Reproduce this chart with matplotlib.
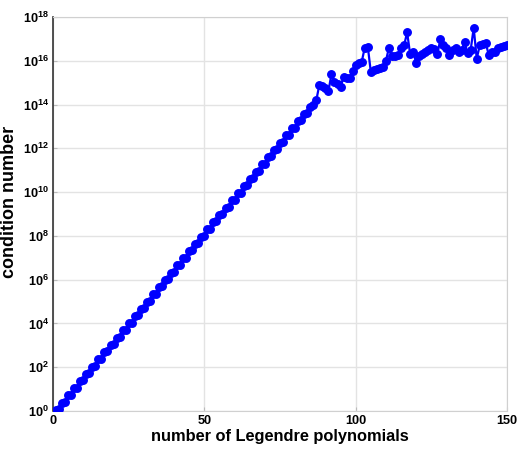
import numpy as np
import matplotlib
matplotlib.use('Agg')
import matplotlib.pyplot as plt
from matplotlib.ticker import FixedLocator, FuncFormatter

plt.rcParams['font.family'] = ['Liberation Sans', 'DejaVu Sans']
plt.rcParams['font.weight'] = 'bold'
plt.rcParams['mathtext.fontset'] = 'custom'
plt.rcParams['mathtext.rm'] = 'Liberation Sans:bold'
plt.rcParams['mathtext.bf'] = 'Liberation Sans:bold'

# number of polynomials
n = np.arange(1, 151)
# log10 of the condition number for each n
logcond = [
    0.05, 0.08, 0.38, 0.41, 0.71, 0.74, 1.04, 1.07, 1.37, 1.40,
    1.70, 1.73, 2.03, 2.06, 2.36, 2.39, 2.69, 2.72, 3.02, 3.05,
    3.35, 3.38, 3.68, 3.71, 4.01, 4.04, 4.34, 4.37, 4.67, 4.70,
    5.00, 5.03, 5.33, 5.36, 5.66, 5.69, 5.99, 6.02, 6.32, 6.35,
    6.65, 6.68, 6.98, 7.01, 7.31, 7.34, 7.64, 7.67, 7.97, 8.00,
    8.30, 8.33, 8.63, 8.66, 8.96, 8.99, 9.29, 9.32, 9.62, 9.65,
    9.95, 9.98, 10.28, 10.31, 10.61, 10.64, 10.94, 10.97, 11.27, 11.30,
    11.60, 11.63, 11.93, 11.96, 12.26, 12.29, 12.59, 12.62, 12.92, 12.95,
    13.25, 13.28, 13.58, 13.61, 13.91, 14.00, 14.20, 14.90, 14.85, 14.75,
    14.60, 15.40, 15.05, 14.95, 14.80, 15.25, 15.20, 15.20, 15.55, 15.80,
    15.90, 15.95, 16.60, 16.65, 15.50, 15.60, 15.62, 15.65, 15.70, 16.00,
    16.60, 16.20, 16.20, 16.25, 16.60, 16.70, 17.30, 16.30, 16.40, 15.90,
    16.20, 16.30, 16.40, 16.50, 16.60, 16.55, 16.30, 17.00, 16.70, 16.60,
    16.25, 16.50, 16.60, 16.40, 16.50, 16.85, 16.35, 16.50, 17.50, 16.10,
    16.70, 16.75, 16.80, 16.25, 16.40, 16.40, 16.60, 16.65, 16.67, 16.70,
]
cond = 10.0 ** np.array(logcond)

xticks = [0, 50, 100, 150]
yexps = list(range(0, 19, 2))

fig = plt.figure(figsize=(5.18, 4.51), dpi=100)
ax = fig.add_axes([53/518, 40/451, 454/518, 394/451])

ax.semilogy(n, cond, '-o', color='#0000ff', lw=1.6, ms=5.4, mec='#0000ff', zorder=3)

ax.set_xlim(0, 150)
ax.set_ylim(1, 1e18)
ax.xaxis.set_major_locator(FixedLocator(xticks))
ax.yaxis.set_major_locator(FixedLocator([10.0 ** e for e in yexps]))
ax.yaxis.set_minor_locator(FixedLocator([]))
ax.yaxis.set_major_formatter(FuncFormatter(lambda v, p: r'$\mathbf{10^{%d}}$' % round(np.log10(v))))
ax.grid(True, color='#e3e3e3', lw=1.0, zorder=0)
ax.tick_params(direction='in', length=3, width=0.8, colors='#bbbbbb',
               labelcolor='black', labelsize=9.2, pad=3)
for lab in ax.get_xticklabels():
    lab.set_fontweight('bold')

for side in ['top', 'right', 'bottom']:
    ax.spines[side].set_color('#d0d0d0')
ax.spines['left'].set_color('#333333')
ax.spines['left'].set_linewidth(1.2)

ax.set_xlabel('number of Legendre polynomials', fontsize=11.8, fontweight='bold', labelpad=1)
ax.set_ylabel('condition number', fontsize=13, fontweight='bold')
ax.yaxis.set_label_coords(-0.078, 0.53)

fig.savefig('out.png', dpi=100)
